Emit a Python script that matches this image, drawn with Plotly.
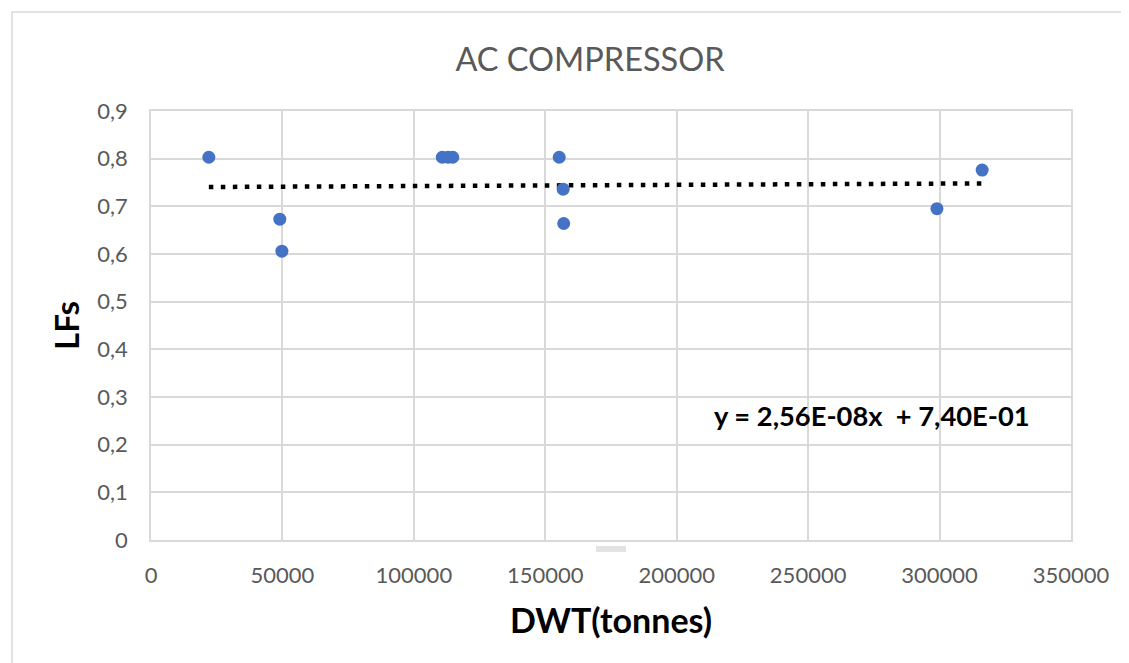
import plotly.graph_objects as go

# ---- data ----
dwt = [22000, 49000, 49800, 110800, 113000, 114800, 155300, 156800, 157000, 299000, 316200]
lfs = [0.803, 0.673, 0.606, 0.803, 0.803, 0.803, 0.803, 0.736, 0.664, 0.695, 0.776]

trend_slope = 2.56e-08
trend_intercept = 0.740

x_tickvals = [0, 50000, 100000, 150000, 200000, 250000, 300000, 350000]
x_ticktext = ["0", "50000", "100000", "150000", "200000", "250000", "300000", "350000"]
y_tickvals = [0, 0.1, 0.2, 0.3, 0.4, 0.5, 0.6, 0.7, 0.8, 0.9]
y_ticktext = ["0", "0,1", "0,2", "0,3", "0,4", "0,5", "0,6", "0,7", "0,8", "0,9"]

title_text = "AC COMPRESSOR"
x_title = "DWT(tonnes)"
y_title = "LFs"
equation_text = "y = 2,56E-08x  + 7,40E-01"

# ---- trendline from the equation ----
tx = [min(dwt), max(dwt)]
ty = [trend_slope * v + trend_intercept for v in tx]

FONT = "Lato, 'Open Sans', sans-serif"
GRID = "#d9d9d9"
TEXT_GRAY = "#595959"

# page body has an 8px margin; figure sized so the plot area lands at 151..1071 x 111..540
W, H = 1121, 655
ML, MR, MT, MB = 143, 58, 103, 123
PW = W - ML - MR
PH = H - MT - MB
OFF = 8


def px_x(p):
    return (p - OFF - ML) / PW


def px_y(p):
    return (H - MB - (p - OFF)) / PH


fig = go.Figure()
fig.add_trace(go.Scatter(
    x=tx, y=ty, mode="lines",
    line=dict(color="black", width=4.5, dash="4.5px,7.5px"),
    hoverinfo="skip", showlegend=False,
))
fig.add_trace(go.Scatter(
    x=dwt, y=lfs, mode="markers",
    marker=dict(color="#4472C4", size=13, line=dict(width=0)),
    showlegend=False,
))

fig.update_layout(
    width=W, height=H,
    margin=dict(l=ML, r=MR, t=MT, b=MB, pad=0),
    paper_bgcolor="white", plot_bgcolor="white",
    font=dict(family=FONT, color=TEXT_GRAY),
    title=dict(text=title_text, x=px_x(590), xref="paper", xanchor="center",
               y=1 - (60 - OFF) / H, yref="container", yanchor="middle",
               font=dict(family=FONT, size=32.5, color=TEXT_GRAY)),
    xaxis=dict(
        range=[0, 350000], tickvals=x_tickvals, ticktext=x_ticktext,
        showgrid=True, gridcolor=GRID, gridwidth=1.5,
        showline=True, linecolor=GRID, linewidth=1.5, mirror=True,
        zeroline=False, ticks="",
        tickfont=dict(family=FONT, size=22, color=TEXT_GRAY),
        ticklabelstandoff=15,
        title=dict(text=x_title, standoff=22,
                   font=dict(family=FONT, size=34, color="black", weight="bold")),
    ),
    yaxis=dict(
        range=[0, 0.9], tickvals=y_tickvals, ticktext=y_ticktext,
        showgrid=True, gridcolor=GRID, gridwidth=1.5,
        showline=True, linecolor=GRID, linewidth=1.5, mirror=True,
        zeroline=True, zerolinecolor="#c4c4c4", zerolinewidth=2, ticks="",
        tickfont=dict(family=FONT, size=22, color=TEXT_GRAY),
        ticklabelstandoff=17,
        title=dict(text=y_title, standoff=8,
                   font=dict(family=FONT, size=33, color="black", weight="bold")),
    ),
    shapes=[
        # outer chart border
        dict(type="rect", xref="paper", yref="paper",
             x0=px_x(12), x1=2.0, y0=-1.0, y1=px_y(12),
             line=dict(color=GRID, width=1.5), fillcolor="rgba(0,0,0,0)", layer="below"),
        # small grey smear under the axis
        dict(type="rect", xref="paper", yref="paper",
             x0=px_x(596), x1=px_x(626), y0=px_y(552), y1=px_y(546),
             line=dict(width=0), fillcolor="#e3e3e3", layer="above"),
    ],
    annotations=[
        dict(text=equation_text, xref="paper", yref="paper",
             x=px_x(712), y=px_y(415), xanchor="left", yanchor="middle",
             showarrow=False,
             font=dict(family=FONT, size=27.3, color="black", weight="bold")),
    ],
)

fig.write_html("out.html")
